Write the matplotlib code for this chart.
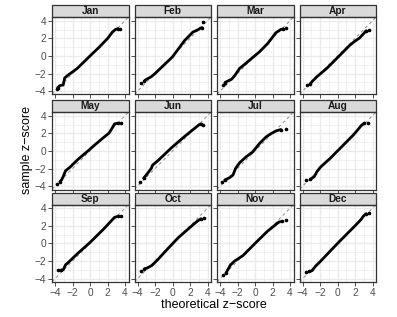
import matplotlib
matplotlib.use("Agg")
import matplotlib.pyplot as plt
from matplotlib.patches import Rectangle

plt.rcParams['font.family'] = ['Liberation Sans', 'DejaVu Sans']

# month names, reading order
MONTHS = ["Jan", "Feb", "Mar", "Apr", "May", "Jun",
          "Jul", "Aug", "Sep", "Oct", "Nov", "Dec"]

# theoretical vs sample z-scores
jan_theo = [-3.8, -3.7, -3.45, -3.07, -2.9, -2.5, -1.5, 0.0, 1.0, 1.98, 2.55, 2.9, 3.2, 3.48]
jan_samp = [-3.8, -3.6, -3.37, -3.3, -2.5, -2.17, -1.45, 0.0, 0.95, 1.95, 2.7, 3.0, 3.1, 3.07]
feb_theo = [-3.56, -3.22, -3.1, -2.43, -1.98, 0.0, 1.39, 1.76, 2.32, 2.96, 3.18, 3.35, 3.52]
feb_samp = [-3.07, -2.85, -2.73, -2.36, -1.98, -0.1, 1.76, 2.13, 2.7, 3.0, 3.15, 3.2, 3.9]
mar_theo = [-3.7, -3.45, -3.26, -2.7, -2.33, -1.77, -1.39, -0.64, 0.49, 1.43, 2.0, 2.37, 2.94, 3.2, 3.58]
mar_samp = [-3.3, -3.03, -2.92, -2.66, -2.25, -1.42, -1.12, -0.49, 0.45, 1.39, 2.13, 2.62, 3.0, 3.07, 3.15]
apr_theo = [-3.48, -3.18, -2.92, -2.36, -1.24, -0.11, 0.64, 1.39, 1.95, 2.5, 2.96, 3.26, 3.56]
apr_samp = [-3.3, -3.22, -2.92, -2.36, -1.42, -0.3, 0.45, 1.2, 1.65, 2.02, 2.5, 2.85, 2.92]
may_theo = [-3.8, -3.45, -3.26, -3.07, -2.8, -2.32, -1.39, 0.0, 0.49, 1.61, 2.17, 2.55, 2.8, 3.18, 3.56]
may_samp = [-3.75, -3.48, -3.3, -2.92, -2.25, -1.87, -0.97, 0.2, 0.64, 1.57, 2.02, 2.62, 3.07, 3.15, 3.15]
jun_theo = [-3.67, -3.3, -2.92, -2.43, -2.28, -1.61, -0.11, 1.39, 2.13, 2.7, 3.07, 3.25, 3.45]
jun_samp = [-3.48, -3.1, -2.62, -1.98, -1.61, -1.05, 0.37, 1.65, 2.25, 2.7, 3.0, 3.05, 3.0]
jul_theo = [-3.83, -3.46, -2.9, -2.52, -2.22, -1.77, -1.02, -0.26, 0.49, 1.24, 1.8, 2.37, 2.93, 3.57]
jul_samp = [-3.48, -3.3, -3.03, -2.73, -1.98, -1.35, -0.67, -0.11, 0.82, 1.57, 1.95, 2.25, 2.43, 2.47]
aug_theo = [-3.6, -3.1, -2.66, -2.36, -1.91, -0.86, 0.64, 1.76, 2.32, 2.7, 3.07, 3.45]
aug_samp = [-3.3, -3.22, -2.92, -2.36, -1.8, -0.86, 0.64, 1.76, 2.4, 2.88, 3.15, 3.18]
sep_theo = [-3.7, -3.33, -3.07, -2.8, -2.5, -1.39, 0.0, 1.61, 2.37, 2.8, 3.18, 3.56]
sep_samp = [-3.07, -3.03, -3.0, -2.43, -2.17, -1.12, 0.11, 1.69, 2.5, 2.96, 3.07, 3.1]
oct_theo = [-3.56, -3.22, -2.92, -2.36, -1.61, -0.86, 0.64, 1.76, 2.5, 2.96, 3.26, 3.56]
oct_samp = [-3.1, -2.88, -2.8, -2.5, -1.76, -0.94, 0.64, 1.61, 2.25, 2.62, 2.8, 2.88]
nov_theo = [-3.7, -3.33, -3.18, -2.8, -2.32, -1.39, 0.0, 1.43, 2.18, 2.74, 3.12, 3.57]
nov_samp = [-3.56, -3.37, -3.1, -2.43, -1.99, -1.39, 0.0, 1.39, 1.99, 2.43, 2.51, 2.62]
dec_theo = [-3.56, -3.22, -2.92, -2.55, -1.98, 0.0, 2.13, 2.7, 2.96, 3.26, 3.63]
dec_samp = [-3.26, -3.18, -3.1, -2.62, -2.06, 0.0, 2.13, 2.73, 3.1, 3.37, 3.48]

THEO = [jan_theo, feb_theo, mar_theo, apr_theo, may_theo, jun_theo,
        jul_theo, aug_theo, sep_theo, oct_theo, nov_theo, dec_theo]
SAMP = [jan_samp, feb_samp, mar_samp, apr_samp, may_samp, jun_samp,
        jul_samp, aug_samp, sep_samp, oct_samp, nov_samp, dec_samp]

TICKS = [-4, -2, 0, 2, 4]
TICK_LABELS = ["\u22124", "\u22122", "0", "2", "4"]

W, H = 397, 317
fig = plt.figure(figsize=(W / 100, H / 100), dpi=100)

# panel boxes in pixels
col_left = [52, 134.5, 217, 299.5]
row_top = [17, 112, 204.5]
pw, ph = 76.5, 77.5
strip_h = 12

for i, month in enumerate(MONTHS):
    r, c = divmod(i, 4)
    left = col_left[c] / W
    bottom = 1 - (row_top[r] + ph) / H
    ax = fig.add_axes([left, bottom, pw / W, ph / H])
    ax.set_xlim(-4.35, 4.4)
    ax.set_ylim(-4.38, 4.42)

    ax.set_xticks(TICKS)
    ax.set_yticks(TICKS)
    ax.set_xticks([-3, -1, 1, 3], minor=True)
    ax.set_yticks([-3, -1, 1, 3], minor=True)
    ax.grid(which='major', color='#EBEBEB', lw=1.0)
    ax.grid(which='minor', color='#EBEBEB', lw=0.5)
    ax.set_axisbelow(True)

    ax.axline((0, 0), slope=1, color='#8C8C8C', lw=0.7, ls=(0, (3, 3)), zorder=2)

    x, y = THEO[i], SAMP[i]
    # dense body of points drawn as a thick stroke, sparse tails as dots
    ax.plot(x[1:-1], y[1:-1], color='black', lw=2.0, solid_capstyle='round',
            solid_joinstyle='round', zorder=3)
    ax.plot(x, y, color='black', lw=0, marker='o', ms=1.6, markevery=[0, 1, -2, -1], zorder=3)

    for s in ax.spines.values():
        s.set_color('#333333')
        s.set_linewidth(0.9)

    ax.tick_params(which='both', length=0)
    ax.tick_params(which='major', length=2.8, width=0.6, color='#333333',
                   labelsize=7.3, labelcolor='#4D4D4D', pad=1.5)
    if c == 0:
        ax.set_yticklabels(TICK_LABELS)
    else:
        ax.set_yticklabels([])
    if r == 2:
        ax.set_xticklabels(TICK_LABELS)
    else:
        ax.set_xticklabels([])

    # facet strip
    sh = strip_h / ph
    ax.add_patch(Rectangle((0, 1), 1, sh, transform=ax.transAxes, clip_on=False,
                           facecolor='#D9D9D9', edgecolor='#333333', lw=0.9))
    ax.text(0.5, 1 + sh / 2, month, transform=ax.transAxes, ha='center', va='center',
            fontsize=7.3, fontweight='bold', color='#1A1A1A')

fig.text(214 / W, 1 - 305 / H, "theoretical z\u2212score", ha='center', va='center',
         fontsize=9, color='black')
fig.text(27 / W, 1 - 150 / H, "sample z\u2212score", ha='center', va='center',
         rotation=90, fontsize=9, color='black')

fig.savefig("out.png", dpi=100)
